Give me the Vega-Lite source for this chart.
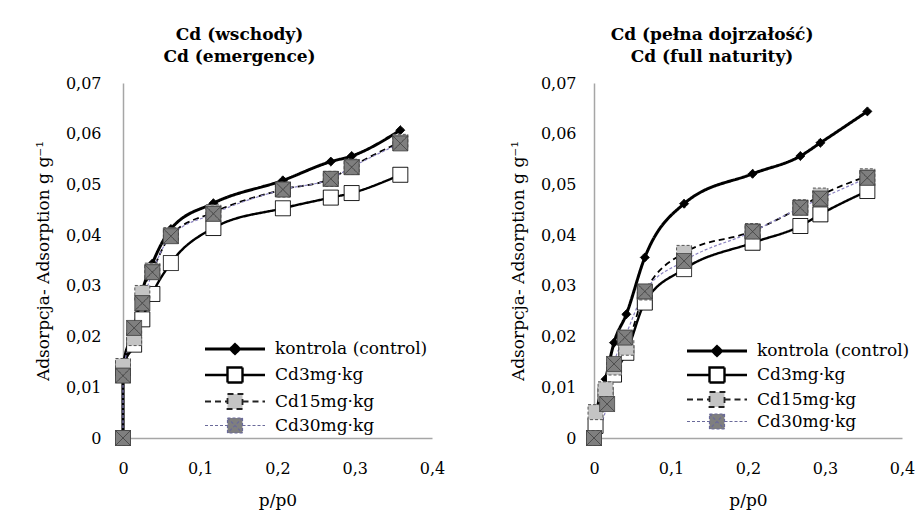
{
  "$schema": "https://vega.github.io/schema/vega-lite/v6.json",
  "background": "white",
  "padding": {"left": 34, "top": 26, "right": 0, "bottom": 4},
  "config": {
    "locale": {"number": {"decimal": ",", "thousands": " ", "grouping": [3], "currency": ["", ""]}},
    "font": "DejaVu Serif",
    "view": {"stroke": null},
    "axis": {"grid": false, "ticks": false, "labelFlush": false, "domainColor": "#a6a6a6", "domainWidth": 1.5, "labelFont": "DejaVu Serif", "labelFontSize": 16, "labelColor": "black", "titleFont": "DejaVu Serif", "titleFontSize": 17, "titleFontWeight": "normal", "titleColor": "black"},
    "title": {"font": "DejaVu Serif", "fontSize": 17, "fontWeight": "bold", "anchor": "middle", "frame": "bounds", "offset": 9, "lineHeight": 22},
    "legend": {"orient": "none", "title": null, "labelFont": "DejaVu Serif", "labelFontSize": 17, "labelColor": "black", "symbolSize": 225, "symbolOpacity": 1, "rowPadding": 2, "labelOffset": 31, "symbolOffset": 20}
  },
  "datasets": {
    "left": [
      {"s": "kontrola (control)", "i": 0, "p": 0, "a": 0},
      {"s": "kontrola (control)", "i": 1, "p": 0, "a": 0.014},
      {"s": "kontrola (control)", "i": 2, "p": 0.0144, "a": 0.0215},
      {"s": "kontrola (control)", "i": 3, "p": 0.025, "a": 0.029},
      {"s": "kontrola (control)", "i": 4, "p": 0.038, "a": 0.0344},
      {"s": "kontrola (control)", "i": 5, "p": 0.062, "a": 0.0412},
      {"s": "kontrola (control)", "i": 6, "p": 0.117, "a": 0.0463},
      {"s": "kontrola (control)", "i": 7, "p": 0.207, "a": 0.0508},
      {"s": "kontrola (control)", "i": 8, "p": 0.269, "a": 0.0545},
      {"s": "kontrola (control)", "i": 9, "p": 0.296, "a": 0.0556},
      {"s": "kontrola (control)", "i": 10, "p": 0.359, "a": 0.0607},
      {"s": "Cd3mg·kg", "i": 0, "p": 0, "a": 0},
      {"s": "Cd3mg·kg", "i": 1, "p": 0, "a": 0.0138},
      {"s": "Cd3mg·kg", "i": 2, "p": 0.0144, "a": 0.0184},
      {"s": "Cd3mg·kg", "i": 3, "p": 0.025, "a": 0.0234},
      {"s": "Cd3mg·kg", "i": 4, "p": 0.038, "a": 0.0284},
      {"s": "Cd3mg·kg", "i": 5, "p": 0.062, "a": 0.0345},
      {"s": "Cd3mg·kg", "i": 6, "p": 0.117, "a": 0.0414},
      {"s": "Cd3mg·kg", "i": 7, "p": 0.207, "a": 0.0453},
      {"s": "Cd3mg·kg", "i": 8, "p": 0.269, "a": 0.0474},
      {"s": "Cd3mg·kg", "i": 9, "p": 0.296, "a": 0.0483},
      {"s": "Cd3mg·kg", "i": 10, "p": 0.359, "a": 0.0519},
      {"s": "Cd15mg·kg", "i": 0, "p": 0, "a": 0},
      {"s": "Cd15mg·kg", "i": 1, "p": 0, "a": 0.0142},
      {"s": "Cd15mg·kg", "i": 2, "p": 0.0144, "a": 0.0197},
      {"s": "Cd15mg·kg", "i": 3, "p": 0.025, "a": 0.0286},
      {"s": "Cd15mg·kg", "i": 4, "p": 0.038, "a": 0.033},
      {"s": "Cd15mg·kg", "i": 5, "p": 0.062, "a": 0.04},
      {"s": "Cd15mg·kg", "i": 6, "p": 0.117, "a": 0.0445},
      {"s": "Cd15mg·kg", "i": 7, "p": 0.207, "a": 0.049},
      {"s": "Cd15mg·kg", "i": 8, "p": 0.269, "a": 0.0511},
      {"s": "Cd15mg·kg", "i": 9, "p": 0.296, "a": 0.0535},
      {"s": "Cd15mg·kg", "i": 10, "p": 0.359, "a": 0.0584},
      {"s": "Cd30mg·kg", "i": 0, "p": 0, "a": 0},
      {"s": "Cd30mg·kg", "i": 1, "p": 0, "a": 0.0123},
      {"s": "Cd30mg·kg", "i": 2, "p": 0.0144, "a": 0.0217},
      {"s": "Cd30mg·kg", "i": 3, "p": 0.025, "a": 0.0266},
      {"s": "Cd30mg·kg", "i": 4, "p": 0.038, "a": 0.0327},
      {"s": "Cd30mg·kg", "i": 5, "p": 0.062, "a": 0.0398},
      {"s": "Cd30mg·kg", "i": 6, "p": 0.117, "a": 0.0442},
      {"s": "Cd30mg·kg", "i": 7, "p": 0.207, "a": 0.049},
      {"s": "Cd30mg·kg", "i": 8, "p": 0.269, "a": 0.0511},
      {"s": "Cd30mg·kg", "i": 9, "p": 0.296, "a": 0.0534},
      {"s": "Cd30mg·kg", "i": 10, "p": 0.359, "a": 0.0581}
    ],
    "right": [
      {"s": "kontrola (control)", "i": 0, "p": 0, "a": 0},
      {"s": "kontrola (control)", "i": 1, "p": 0.002, "a": 0.0034},
      {"s": "kontrola (control)", "i": 2, "p": 0.015, "a": 0.0116},
      {"s": "kontrola (control)", "i": 3, "p": 0.026, "a": 0.0188},
      {"s": "kontrola (control)", "i": 4, "p": 0.042, "a": 0.0244},
      {"s": "kontrola (control)", "i": 5, "p": 0.066, "a": 0.0356},
      {"s": "kontrola (control)", "i": 6, "p": 0.117, "a": 0.0462},
      {"s": "kontrola (control)", "i": 7, "p": 0.206, "a": 0.0521},
      {"s": "kontrola (control)", "i": 8, "p": 0.268, "a": 0.0556},
      {"s": "kontrola (control)", "i": 9, "p": 0.294, "a": 0.0582},
      {"s": "kontrola (control)", "i": 10, "p": 0.355, "a": 0.0644},
      {"s": "Cd3mg·kg", "i": 0, "p": 0, "a": 0},
      {"s": "Cd3mg·kg", "i": 1, "p": 0.002, "a": 0.0024},
      {"s": "Cd3mg·kg", "i": 2, "p": 0.015, "a": 0.0085},
      {"s": "Cd3mg·kg", "i": 3, "p": 0.026, "a": 0.0125},
      {"s": "Cd3mg·kg", "i": 4, "p": 0.042, "a": 0.0168},
      {"s": "Cd3mg·kg", "i": 5, "p": 0.066, "a": 0.0267},
      {"s": "Cd3mg·kg", "i": 6, "p": 0.117, "a": 0.0333},
      {"s": "Cd3mg·kg", "i": 7, "p": 0.206, "a": 0.0385},
      {"s": "Cd3mg·kg", "i": 8, "p": 0.268, "a": 0.0418},
      {"s": "Cd3mg·kg", "i": 9, "p": 0.294, "a": 0.0441},
      {"s": "Cd3mg·kg", "i": 10, "p": 0.355, "a": 0.0487},
      {"s": "Cd15mg·kg", "i": 0, "p": 0, "a": 0},
      {"s": "Cd15mg·kg", "i": 1, "p": 0.002, "a": 0.0051},
      {"s": "Cd15mg·kg", "i": 2, "p": 0.015, "a": 0.0096},
      {"s": "Cd15mg·kg", "i": 3, "p": 0.026, "a": 0.0139},
      {"s": "Cd15mg·kg", "i": 4, "p": 0.042, "a": 0.0178},
      {"s": "Cd15mg·kg", "i": 5, "p": 0.066, "a": 0.0287},
      {"s": "Cd15mg·kg", "i": 6, "p": 0.117, "a": 0.0365},
      {"s": "Cd15mg·kg", "i": 7, "p": 0.206, "a": 0.0408},
      {"s": "Cd15mg·kg", "i": 8, "p": 0.268, "a": 0.0455},
      {"s": "Cd15mg·kg", "i": 9, "p": 0.294, "a": 0.0478},
      {"s": "Cd15mg·kg", "i": 10, "p": 0.355, "a": 0.0516},
      {"s": "Cd30mg·kg", "i": 0, "p": 0, "a": 0},
      {"s": "Cd30mg·kg", "i": 2, "p": 0.017, "a": 0.0067},
      {"s": "Cd30mg·kg", "i": 3, "p": 0.026, "a": 0.0146},
      {"s": "Cd30mg·kg", "i": 4, "p": 0.04, "a": 0.0198},
      {"s": "Cd30mg·kg", "i": 5, "p": 0.066, "a": 0.0289},
      {"s": "Cd30mg·kg", "i": 6, "p": 0.117, "a": 0.0349},
      {"s": "Cd30mg·kg", "i": 7, "p": 0.206, "a": 0.0407},
      {"s": "Cd30mg·kg", "i": 8, "p": 0.268, "a": 0.0454},
      {"s": "Cd30mg·kg", "i": 9, "p": 0.294, "a": 0.0472},
      {"s": "Cd30mg·kg", "i": 10, "p": 0.355, "a": 0.0513}
    ]
  },
  "spacing": 64,
  "hconcat": [
    {
      "width": 309,
      "height": 355,
      "title": {"text": ["Cd (wschody)", "Cd (emergence)"]},
      "data": {"name": "left"},
      "encoding": {
        "x": {"field": "p", "type": "quantitative", "scale": {"domain": [0, 0.4], "nice": false, "zero": false}, "axis": {"values": [0, 0.1, 0.2, 0.3, 0.4], "format": ".1~f", "title": "p/p0", "labelPadding": 22, "titlePadding": 16}},
        "y": {"field": "a", "type": "quantitative", "scale": {"domain": [0, 0.07], "nice": false}, "axis": {"values": [0, 0.01, 0.02, 0.03, 0.04, 0.05, 0.06, 0.07], "format": ".2~f", "title": "Adsorpcja- Adsorption g g⁻¹", "labelPadding": 22, "titlePadding": 13}}
      },
      "resolve": {
        "scale": {"color": "independent", "shape": "independent", "fill": "independent", "stroke": "independent", "strokeWidth": "independent", "strokeDash": "independent"},
        "legend": {"color": "independent", "shape": "independent", "fill": "independent", "stroke": "independent", "strokeWidth": "independent", "strokeDash": "independent"}
      },
      "layer": [
        {
          "mark": {"type": "line", "interpolate": "monotone"},
          "encoding": {
            "order": {"field": "i", "type": "quantitative"},
            "color": {"field": "s", "type": "nominal", "scale": {"domain": ["kontrola (control)", "Cd3mg·kg", "Cd15mg·kg", "Cd30mg·kg"], "range": ["#000000", "#000000", "#000000", "#8a82c0"]}, "legend": null},
            "strokeWidth": {"field": "s", "type": "nominal", "scale": {"domain": ["kontrola (control)", "Cd3mg·kg", "Cd15mg·kg", "Cd30mg·kg"], "range": [3, 1.2, 1.2, 1]}, "legend": null},
            "strokeDash": {"field": "s", "type": "nominal", "scale": {"domain": ["kontrola (control)", "Cd3mg·kg", "Cd15mg·kg", "Cd30mg·kg"], "range": [[1, 0], [1, 0], [6, 4], [3, 2]]}, "legend": null}
          }
        },
        {
          "mark": {"type": "point", "filled": true, "size": 225, "opacity": 1, "strokeWidth": 1},
          "encoding": {
            "shape": {"field": "s", "type": "nominal", "scale": {"domain": ["kontrola (control)", "Cd3mg·kg", "Cd15mg·kg", "Cd30mg·kg"], "range": ["M0,-0.6L0.6,0L0,0.6L-0.6,0Z", "M-1,-1H1V1H-1Z", "M-1,-1H1V1H-1Z", "M-1,-1H1V1H-1Z M-1,-1L1,1 M1,-1L-1,1"]}, "legend": null},
            "fill": {"field": "s", "type": "nominal", "scale": {"domain": ["kontrola (control)", "Cd3mg·kg", "Cd15mg·kg", "Cd30mg·kg"], "range": ["#000000", "#ffffff", "#c4c4c4", "#7f7f7f"]}, "legend": null},
            "stroke": {"field": "s", "type": "nominal", "scale": {"domain": ["kontrola (control)", "Cd3mg·kg", "Cd15mg·kg", "Cd30mg·kg"], "range": ["#000000", "#000000", "#555555", "#404040"]}, "legend": null},
            "strokeDash": {"field": "s", "type": "nominal", "scale": {"domain": ["kontrola (control)", "Cd3mg·kg", "Cd15mg·kg", "Cd30mg·kg"], "range": [[1, 0], [1, 0], [3, 2], [1, 0]]}, "legend": null}
          }
        },
        {
          "mark": {"type": "point", "filled": true, "size": 225, "opacity": 0},
          "encoding": {
            "fill": {"field": "s", "type": "nominal", "scale": {"domain": ["kontrola (control)", "Cd3mg·kg", "Cd15mg·kg", "Cd30mg·kg"], "range": ["#000000", "#ffffff", "#c4c4c4", "#7f7f7f"]}, "legend": {"legendX": 83, "legendY": 257}},
            "stroke": {"field": "s", "type": "nominal", "scale": {"domain": ["kontrola (control)", "Cd3mg·kg", "Cd15mg·kg", "Cd30mg·kg"], "range": ["#000000", "#000000", "#222222", "#6a6a9a"]}, "legend": {"legendX": 83, "legendY": 257}},
            "shape": {"field": "s", "type": "nominal", "scale": {"domain": ["kontrola (control)", "Cd3mg·kg", "Cd15mg·kg", "Cd30mg·kg"], "range": ["M-4,0H4 M0,-0.6L0.6,0L0,0.6L-0.6,0Z", "M-4,0H-1 M1,0H4 M-1,-1H1V1H-1Z", "M-4,0H-1 M1,0H4 M-1,-1H1V1H-1Z", "M-4,0H-1 M1,0H4 M-1,-1H1V1H-1Z M-1,-1L1,1 M1,-1L-1,1"]}, "legend": {"legendX": 83, "legendY": 257}},
            "strokeWidth": {"field": "s", "type": "nominal", "scale": {"domain": ["kontrola (control)", "Cd3mg·kg", "Cd15mg·kg", "Cd30mg·kg"], "range": [3, 1.2, 1.2, 1]}, "legend": {"legendX": 83, "legendY": 257}},
            "strokeDash": {"field": "s", "type": "nominal", "scale": {"domain": ["kontrola (control)", "Cd3mg·kg", "Cd15mg·kg", "Cd30mg·kg"], "range": [[1, 0], [1, 0], [6, 4], [3, 2]]}, "legend": {"legendX": 83, "legendY": 257}}
          }
        }
      ]
    },
    {
      "width": 308,
      "height": 355,
      "title": {"text": ["Cd (pełna dojrzałość)", "Cd (full naturity)"]},
      "data": {"name": "right"},
      "encoding": {
        "x": {"field": "p", "type": "quantitative", "scale": {"domain": [0, 0.4], "nice": false, "zero": false}, "axis": {"values": [0, 0.1, 0.2, 0.3, 0.4], "format": ".1~f", "title": "p/p0", "labelPadding": 22, "titlePadding": 16}},
        "y": {"field": "a", "type": "quantitative", "scale": {"domain": [0, 0.07], "nice": false}, "axis": {"values": [0, 0.01, 0.02, 0.03, 0.04, 0.05, 0.06, 0.07], "format": ".2~f", "title": "Adsorpcja- Adsorption g g⁻¹", "labelPadding": 18, "titlePadding": 13}}
      },
      "resolve": {
        "scale": {"color": "independent", "shape": "independent", "fill": "independent", "stroke": "independent", "strokeWidth": "independent", "strokeDash": "independent"},
        "legend": {"color": "independent", "shape": "independent", "fill": "independent", "stroke": "independent", "strokeWidth": "independent", "strokeDash": "independent"}
      },
      "layer": [
        {
          "mark": {"type": "line", "interpolate": "monotone"},
          "encoding": {
            "order": {"field": "i", "type": "quantitative"},
            "color": {"field": "s", "type": "nominal", "scale": {"domain": ["kontrola (control)", "Cd3mg·kg", "Cd15mg·kg", "Cd30mg·kg"], "range": ["#000000", "#000000", "#000000", "#8a82c0"]}, "legend": null},
            "strokeWidth": {"field": "s", "type": "nominal", "scale": {"domain": ["kontrola (control)", "Cd3mg·kg", "Cd15mg·kg", "Cd30mg·kg"], "range": [3, 1.2, 1.2, 1]}, "legend": null},
            "strokeDash": {"field": "s", "type": "nominal", "scale": {"domain": ["kontrola (control)", "Cd3mg·kg", "Cd15mg·kg", "Cd30mg·kg"], "range": [[1, 0], [1, 0], [6, 4], [3, 2]]}, "legend": null}
          }
        },
        {
          "mark": {"type": "point", "filled": true, "size": 225, "opacity": 1, "strokeWidth": 1},
          "encoding": {
            "shape": {"field": "s", "type": "nominal", "scale": {"domain": ["kontrola (control)", "Cd3mg·kg", "Cd15mg·kg", "Cd30mg·kg"], "range": ["M0,-0.6L0.6,0L0,0.6L-0.6,0Z", "M-1,-1H1V1H-1Z", "M-1,-1H1V1H-1Z", "M-1,-1H1V1H-1Z M-1,-1L1,1 M1,-1L-1,1"]}, "legend": null},
            "fill": {"field": "s", "type": "nominal", "scale": {"domain": ["kontrola (control)", "Cd3mg·kg", "Cd15mg·kg", "Cd30mg·kg"], "range": ["#000000", "#ffffff", "#c4c4c4", "#7f7f7f"]}, "legend": null},
            "stroke": {"field": "s", "type": "nominal", "scale": {"domain": ["kontrola (control)", "Cd3mg·kg", "Cd15mg·kg", "Cd30mg·kg"], "range": ["#000000", "#000000", "#555555", "#404040"]}, "legend": null},
            "strokeDash": {"field": "s", "type": "nominal", "scale": {"domain": ["kontrola (control)", "Cd3mg·kg", "Cd15mg·kg", "Cd30mg·kg"], "range": [[1, 0], [1, 0], [3, 2], [1, 0]]}, "legend": null}
          }
        },
        {
          "mark": {"type": "point", "filled": true, "size": 225, "opacity": 0},
          "encoding": {
            "fill": {"field": "s", "type": "nominal", "scale": {"domain": ["kontrola (control)", "Cd3mg·kg", "Cd15mg·kg", "Cd30mg·kg"], "range": ["#000000", "#ffffff", "#c4c4c4", "#7f7f7f"]}, "legend": {"legendX": 94, "legendY": 259, "rowPadding": 0}},
            "stroke": {"field": "s", "type": "nominal", "scale": {"domain": ["kontrola (control)", "Cd3mg·kg", "Cd15mg·kg", "Cd30mg·kg"], "range": ["#000000", "#000000", "#222222", "#6a6a9a"]}, "legend": {"legendX": 94, "legendY": 259, "rowPadding": 0}},
            "shape": {"field": "s", "type": "nominal", "scale": {"domain": ["kontrola (control)", "Cd3mg·kg", "Cd15mg·kg", "Cd30mg·kg"], "range": ["M-4,0H4 M0,-0.6L0.6,0L0,0.6L-0.6,0Z", "M-4,0H-1 M1,0H4 M-1,-1H1V1H-1Z", "M-4,0H-1 M1,0H4 M-1,-1H1V1H-1Z", "M-4,0H-1 M1,0H4 M-1,-1H1V1H-1Z M-1,-1L1,1 M1,-1L-1,1"]}, "legend": {"legendX": 94, "legendY": 259, "rowPadding": 0}},
            "strokeWidth": {"field": "s", "type": "nominal", "scale": {"domain": ["kontrola (control)", "Cd3mg·kg", "Cd15mg·kg", "Cd30mg·kg"], "range": [3, 1.2, 1.2, 1]}, "legend": {"legendX": 94, "legendY": 259, "rowPadding": 0}},
            "strokeDash": {"field": "s", "type": "nominal", "scale": {"domain": ["kontrola (control)", "Cd3mg·kg", "Cd15mg·kg", "Cd30mg·kg"], "range": [[1, 0], [1, 0], [6, 4], [3, 2]]}, "legend": {"legendX": 94, "legendY": 259, "rowPadding": 0}}
          }
        }
      ]
    }
  ]
}
